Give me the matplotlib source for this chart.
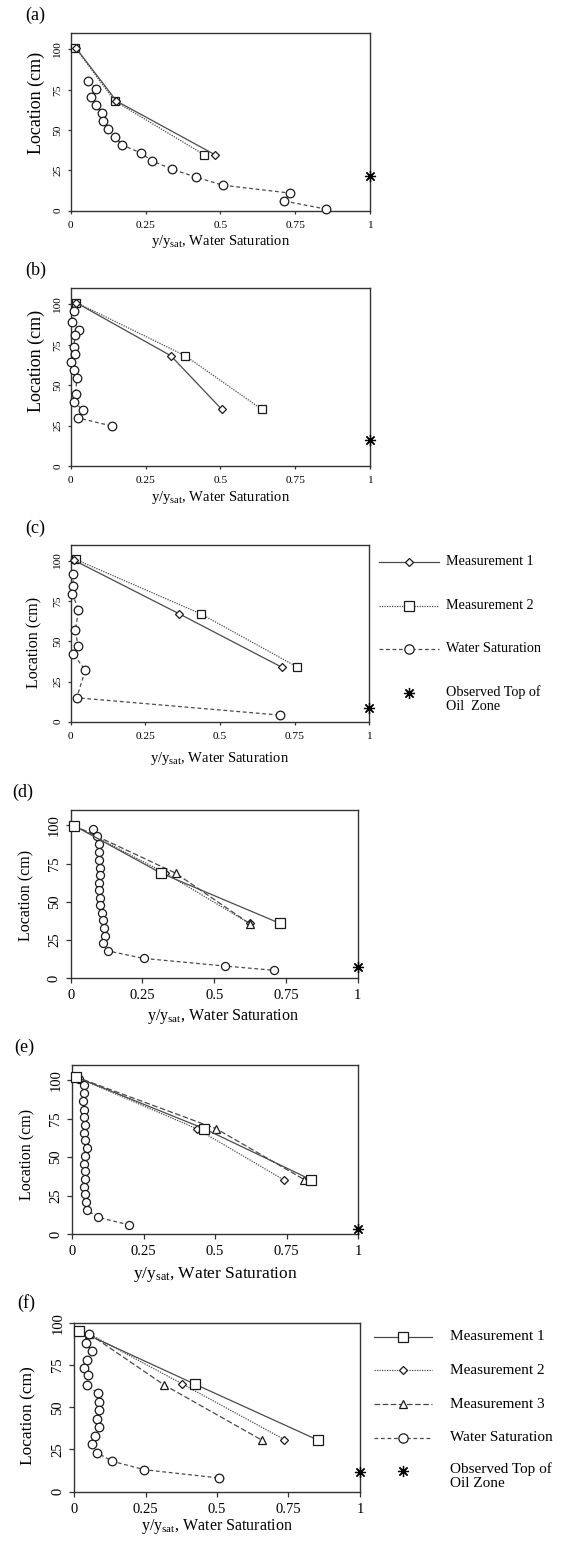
import matplotlib
matplotlib.use("Agg")
import matplotlib.pyplot as plt
from matplotlib.lines import Line2D

plt.rcParams['font.family'] = ['Liberation Serif', 'DejaVu Serif']
plt.rcParams['mathtext.fontset'] = 'custom'
plt.rcParams['mathtext.rm'] = 'Liberation Serif'
plt.rcParams['mathtext.it'] = 'Liberation Serif:italic'

W, H = 561, 1543
LINE = '#4a4a4a'
EDGE = '#1a1a1a'
SPINE = '#333333'

x_ticks = [0, 0.25, 0.5, 0.75, 1]
x_tick_labels = ['0', '0.25', '0.5', '0.75', '1']
y_ticks = [0, 25, 50, 75, 100]
y_tick_labels = ['0', '25', '50', '75', '100']
star_x = 1.0

# (a)
a_m1_x = [0.017, 0.153, 0.483]
a_m1_y = [101.0, 68.0, 34.6]
a_m2_x = [0.016, 0.147, 0.447]
a_m2_y = [101.0, 68.0, 34.6]
a_ws_x = [0.059, 0.084, 0.067, 0.084, 0.106, 0.109, 0.125, 0.147, 0.173, 0.234,
          0.272, 0.339, 0.419, 0.508, 0.734, 0.713, 0.853]
a_ws_y = [80.5, 75.7, 70.6, 65.6, 60.7, 55.8, 50.6, 45.7, 40.7, 35.8,
          30.9, 25.7, 20.8, 15.8, 10.9, 6.0, 1.0]
a_top = 21.6

# (b)
b_m1_x = [0.017, 0.335, 0.505]
b_m1_y = [101.2, 68.2, 35.0]
b_m2_x = [0.019, 0.383, 0.639]
b_m2_y = [101.2, 68.2, 35.0]
b_ws_x = [0.011, 0.006, 0.029, 0.015, 0.010, 0.015, 0.002, 0.012, 0.020, 0.017,
          0.010, 0.042, 0.026, 0.139]
b_ws_y = [96.1, 89.3, 84.3, 81.0, 73.6, 69.3, 64.5, 59.4, 54.4, 44.3,
          39.6, 34.6, 29.7, 24.7]
b_top = 15.9

# (c)
c_m1_x = [0.010, 0.364, 0.706]
c_m1_y = [100.6, 67.1, 34.0]
c_m2_x = [0.017, 0.436, 0.759]
c_m2_y = [101.0, 67.1, 34.0]
c_ws_x = [0.008, 0.008, 0.006, 0.026, 0.016, 0.024, 0.008, 0.049, 0.020, 0.701]
c_ws_y = [92.1, 84.7, 79.5, 69.6, 57.1, 47.2, 42.2, 32.1, 14.9, 4.1]
c_top = 8.3

# (d)
d_m1_x = [0.012, 0.315, 0.729]
d_m1_y = [99.8, 68.7, 35.9]
d_m2_x = [0.012, 0.330, 0.623]
d_m2_y = [99.8, 68.7, 35.9]
d_m3_x = [0.012, 0.366, 0.626]
d_m3_y = [99.8, 68.7, 35.4]
d_ws_x = [0.078, 0.091, 0.097, 0.097, 0.097, 0.102, 0.102, 0.097, 0.097, 0.102,
          0.102, 0.109, 0.111, 0.116, 0.118, 0.113, 0.130, 0.254, 0.539, 0.710]
d_ws_y = [97.6, 92.7, 87.5, 82.7, 77.5, 72.4, 67.6, 62.6, 57.5, 52.7,
          47.7, 42.5, 37.8, 32.8, 27.9, 22.9, 17.9, 13.0, 8.0, 5.2]
d_top = 7.3

# (e)
e_m1_x = [0.014, 0.461, 0.835]
e_m1_y = [102.2, 68.6, 35.3]
e_m2_x = [0.014, 0.435, 0.739]
e_m2_y = [102.2, 68.6, 35.3]
e_m3_x = [0.014, 0.503, 0.812]
e_m3_y = [102.2, 68.6, 35.3]
e_ws_x = [0.026, 0.043, 0.041, 0.037, 0.041, 0.043, 0.046, 0.043, 0.047, 0.051,
          0.047, 0.043, 0.047, 0.047, 0.043, 0.047, 0.049, 0.051, 0.090, 0.200]
e_ws_y = [100.6, 96.7, 91.5, 86.3, 81.0, 76.0, 70.8, 65.8, 61.0, 55.8,
          51.0, 45.8, 40.7, 35.7, 30.9, 25.9, 20.9, 15.7, 10.9, 5.9]
e_top = 3.0

# (f)
f_m1_x = [0.016, 0.422, 0.852]
f_m1_y = [95.3, 63.7, 30.6]
f_m2_x = [0.054, 0.379, 0.736]
f_m2_y = [93.3, 63.7, 30.8]
f_m3_x = [0.054, 0.314, 0.658]
f_m3_y = [93.3, 63.3, 30.4]
f_ws_x = [0.054, 0.041, 0.062, 0.047, 0.035, 0.048, 0.044, 0.083, 0.086, 0.088,
          0.081, 0.088, 0.072, 0.064, 0.081, 0.132, 0.246, 0.508]
f_ws_y = [93.3, 88.2, 83.2, 78.1, 73.2, 68.8, 63.1, 58.2, 53.3, 48.3,
          43.2, 38.1, 33.1, 28.2, 23.1, 18.1, 13.0, 8.1]
f_top = 11.5

SOLID = dict(ls='-', lw=0.9)
DOTTED = dict(ls=(0, (1, 1)), lw=0.9)
DASH3 = dict(ls=(0, (4.5, 2)), lw=0.9)
DASHWS = dict(ls=(0, (3, 2.2)), lw=0.9)
STAR = dict(marker=(8, 2, 0), ms=8, color='black', mew=0.9, ls='none')

XLABEL = r'y/y$_{\rm sat}$, Water Saturation'

fig = plt.figure(figsize=(W / 100, H / 100), dpi=100)
fig.patch.set_facecolor('white')


def box(l, t, r, b):
    return [l / W, 1 - b / H, (r - l) / W, (b - t) / H]


def series(ax, x, y, marker, ms, style, z):
    ax.plot(x, y, color=LINE, marker=marker, ms=ms, mfc='white', mec=EDGE,
            mew=0.9, zorder=z, clip_on=False, **style)


def setup(ax, l, t, r, b, ymax, tfs, xfs, yfs, tl, xpad, xl_dy, xl_x, yl_dx, yl_y):
    ax.set_xlim(0, 1)
    ax.set_ylim(0, ymax)
    ax.set_xticks(x_ticks)
    ax.set_xticklabels(x_tick_labels)
    ax.set_yticks(y_ticks)
    ax.set_yticklabels(y_tick_labels)
    for s in ax.spines.values():
        s.set_color(SPINE)
        s.set_linewidth(1.0)
    ax.tick_params(direction='out', length=tl, width=0.9, color=SPINE,
                   labelsize=tfs, right=False, top=False)
    ax.tick_params(axis='x', pad=xpad)
    ax.tick_params(axis='y', pad=3.5)
    plt.setp(ax.get_yticklabels(), rotation=90, va='center')
    ax.set_xlabel(XLABEL, fontsize=xfs)
    ax.set_ylabel('Location (cm)', fontsize=yfs)
    ax.xaxis.label.set_va('center')
    ax.yaxis.label.set_va('center')
    ax.xaxis.set_label_coords(xl_x, -xl_dy / (b - t))
    ax.yaxis.set_label_coords(-yl_dx / (r - l), yl_y)


def legend(entries, x0, x1, xm, xt, ys, fs):
    for (style, marker, ms, label), y in zip(entries, ys):
        fy = 1 - y / H
        if style is not None:
            fig.add_artist(Line2D([x0 / W, x1 / W], [fy, fy], color=LINE,
                                  transform=fig.transFigure, **style))
            fig.add_artist(Line2D([xm / W], [fy], marker=marker, ms=ms, mfc='white',
                                  mec=EDGE, mew=0.9, ls='none',
                                  transform=fig.transFigure))
            fig.text(xt / W, fy, label, fontsize=fs, va='center', ha='left')
        else:
            fig.add_artist(Line2D([xm / W], [fy], transform=fig.transFigure, **STAR))
            fig.text(xt / W, fy + 0.0052, label, fontsize=fs, va='top', ha='left',
                     linespacing=1.05)


# panel a
L = (70.7, 33.3, 370, 210.7)
ax = fig.add_axes(box(*L))
series(ax, a_m2_x, a_m2_y, 's', 6.2, DOTTED, 3)
series(ax, a_m1_x, a_m1_y, 'D', 3.6, SOLID, 4)
series(ax, a_ws_x, a_ws_y, 'o', 6.2, DASHWS, 3)
ax.plot([star_x], [a_top], clip_on=False, zorder=5, **STAR)
setup(ax, *L, 110, 8.2, 10.5, 13, 2.5, 5, 31, 0.5, 34, 0.61)
fig.text(35 / W, 1 - 15 / H, '(a)', fontsize=13, ha='center', va='center')

# panel b
L = (70.7, 288.3, 370, 466)
ax = fig.add_axes(box(*L))
series(ax, b_m2_x, b_m2_y, 's', 6.2, DOTTED, 3)
series(ax, b_m1_x, b_m1_y, 'D', 3.6, SOLID, 4)
series(ax, b_ws_x, b_ws_y, 'o', 6.2, DASHWS, 3)
ax.plot([star_x], [b_top], clip_on=False, zorder=5, **STAR)
setup(ax, *L, 110, 8.2, 10.5, 13, 2.5, 5, 31, 0.5, 34, 0.59)
fig.text(36 / W, 1 - 270 / H, '(b)', fontsize=13, ha='center', va='center')

# panel c
L = (70.7, 545, 369.3, 721.7)
ax = fig.add_axes(box(*L))
series(ax, c_m2_x, c_m2_y, 's', 6.2, DOTTED, 3)
series(ax, c_m1_x, c_m1_y, 'D', 3.6, SOLID, 4)
series(ax, c_ws_x, c_ws_y, 'o', 6.2, DASHWS, 3)
ax.plot([star_x], [c_top], clip_on=False, zorder=5, **STAR)
setup(ax, *L, 110, 8.2, 10.5, 11.5, 2.5, 5, 37, 0.5, 36, 0.45)
fig.text(35 / W, 1 - 528 / H, '(c)', fontsize=13, ha='center', va='center')
legend([(SOLID, 'D', 4.3, 'Measurement 1'),
        (DOTTED, 's', 6.7, 'Measurement 2'),
        (DASHWS, 'o', 6.7, 'Water Saturation'),
        (None, None, None, 'Observed Top of\nOil  Zone')],
       379, 439.3, 409.3, 445.7, [561.7, 605.7, 649, 693.3], 10.2)

# panel d
L = (70.7, 810, 357.7, 978.3)
ax = fig.add_axes(box(*L))
series(ax, d_m2_x, d_m2_y, 'D', 3.6, DOTTED, 3)
series(ax, d_m3_x, d_m3_y, '^', 6.0, DASH3, 3)
series(ax, d_m1_x, d_m1_y, 's', 6.5, SOLID, 4)
series(ax, d_ws_x, d_ws_y, 'o', 5.8, DASHWS, 3)
ax.plot([star_x], [d_top], clip_on=False, zorder=5, **STAR)
setup(ax, *L, 110, 10.5, 11.5, 11.5, 3.5, 4.5, 38, 0.53, 44, 0.49)
fig.text(22.5 / W, 1 - 792 / H, '(d)', fontsize=13, ha='center', va='center')

# panel e
L = (72, 1065, 358.3, 1234)
ax = fig.add_axes(box(*L))
series(ax, e_m2_x, e_m2_y, 'D', 3.6, DOTTED, 3)
series(ax, e_m3_x, e_m3_y, '^', 6.0, DASH3, 3)
series(ax, e_m1_x, e_m1_y, 's', 6.5, SOLID, 4)
series(ax, e_ws_x, e_ws_y, 'o', 5.8, DASHWS, 3)
ax.plot([star_x], [e_top], clip_on=False, zorder=5, **STAR)
setup(ax, *L, 110, 10.5, 12.5, 11.5, 3.5, 4.5, 41, 0.5, 45, 0.47)
fig.text(24.7 / W, 1 - 1047 / H, '(e)', fontsize=13, ha='center', va='center')

# panel f
L = (74, 1322.7, 360, 1491.7)
ax = fig.add_axes(box(*L))
series(ax, f_m2_x, f_m2_y, 'D', 3.6, DOTTED, 3)
series(ax, f_m3_x, f_m3_y, '^', 6.0, DASH3, 3)
series(ax, f_m1_x, f_m1_y, 's', 6.5, SOLID, 4)
series(ax, f_ws_x, f_ws_y, 'o', 6.2, DASHWS, 5)
ax.plot([star_x], [f_top], clip_on=False, zorder=5, **STAR)
setup(ax, *L, 100, 10.5, 11.5, 12.5, 3.5, 4.5, 35, 0.5, 45.7, 0.45)
fig.text(26.7 / W, 1 - 1303.3 / H, '(f)', fontsize=13, ha='center', va='center')
legend([(SOLID, 's', 6.7, 'Measurement 1'),
        (DOTTED, 'D', 4.2, 'Measurement 2'),
        (DASH3, '^', 6.2, 'Measurement 3'),
        (DASHWS, 'o', 6.7, 'Water Saturation'),
        (None, None, None, 'Observed Top of\nOil Zone')],
       374, 431.7, 402.7, 450, [1336.7, 1370, 1404, 1437.7, 1470.7], 11)

fig.savefig('out.png', dpi=100, facecolor='white')
